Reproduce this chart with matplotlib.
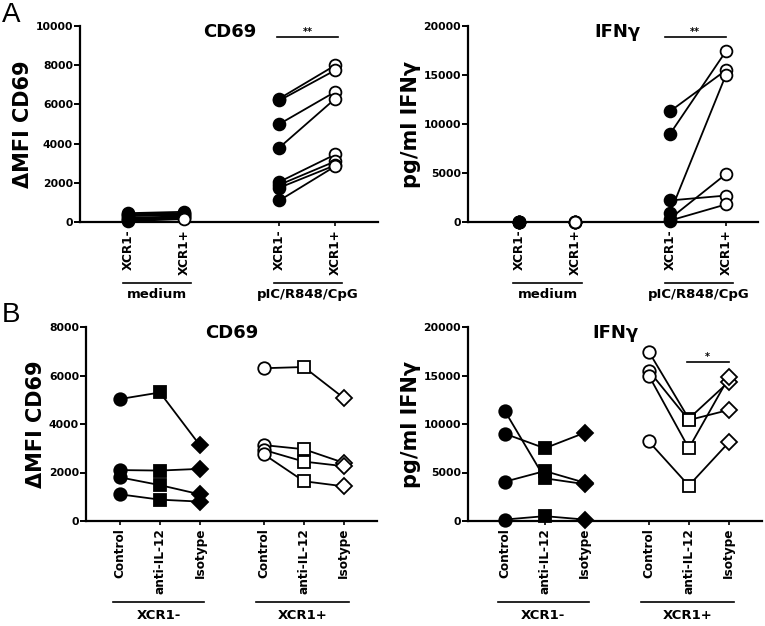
import matplotlib
matplotlib.use("Agg")
import matplotlib.pyplot as plt

plt.rcParams['font.family'] = ['DejaVu Sans']
plt.rcParams['font.weight'] = 'bold'

# ---- panel A data (paired donors) ----
a_groups = ["medium", "pIC/R848/CpG"]
a_ticks = ["XCR1-", "XCR1+", "XCR1-", "XCR1+"]

cd69_med_neg = [450, 400, 350, 300, 200, 150, 100, 50]
cd69_med_pos = [520, 450, 400, 350, 300, 250, 200, 150]
cd69_pic_neg = [6300, 6200, 5000, 3800, 2050, 1900, 1750, 1100]
cd69_pic_pos = [8000, 7750, 6650, 6300, 3450, 3100, 2900, 2850]

ifn_med_neg = [0, 0, 0, 0, 0, 0]
ifn_med_pos = [0, 0, 0, 0, 0, 0]
ifn_pic_neg = [11300, 9000, 2200, 950, 350, 150]
ifn_pic_pos = [15500, 17450, 2700, 15050, 4900, 1800]

# ---- panel B data (Control, anti-IL-12, Isotype) ----
b_groups = ["XCR1-", "XCR1+"]
b_ticks = ["Control", "anti-IL-12", "Isotype"] * 2

cd69_b_neg = [[5030, 5300, 3120],
              [2100, 2080, 2150],
              [1800, 1480, 1100],
              [1100, 880, 800]]
cd69_b_pos = [[6300, 6350, 5070],
              [3130, 2960, 2400],
              [2930, 2450, 2260],
              [2750, 1640, 1430]]

ifn_b_neg = [[11350, 4400, 3800],
             [9000, 7500, 9100],
             [4050, 5150, 3950],
             [150, 500, 150]]
ifn_b_pos = [[17450, 10550, 14350],
             [15500, 10400, 11450],
             [15000, 7500, 14800],
             [8200, 3650, 8100]]

W, H = 765, 626
fig = plt.figure(figsize=(W / 100, H / 100), dpi=100)


def make_ax(x0, y0, x1, y1):
    return fig.add_axes([x0 / W, 1 - y1 / H, (x1 - x0) / W, (y1 - y0) / H])


def style(ax, ymax, ystep, ylabel, title, tx, ty):
    ax.spines['top'].set_visible(False)
    ax.spines['right'].set_visible(False)
    ax.spines['left'].set_linewidth(1.6)
    ax.spines['bottom'].set_linewidth(1.6)
    ax.set_ylim(0, ymax)
    ax.set_yticks(range(0, ymax + 1, ystep))
    ax.tick_params(axis='y', direction='out', length=4, width=1.4, labelsize=7.8, pad=1)
    ax.tick_params(axis='x', direction='out', length=3, width=1.2, labelsize=8.7,
                   labelrotation=90, pad=2)
    for lb in ax.get_yticklabels() + ax.get_xticklabels():
        lb.set_fontweight('bold')
    ax.set_ylabel(ylabel, fontsize=15, fontweight='bold', labelpad=2)
    ax.text(tx, ty, title, transform=ax.transAxes, fontsize=13, fontweight='bold',
            ha='center', va='center')


def dots(ax, x, ys, m, fc, ms=8.5):
    ax.plot([x] * len(ys), ys, m, ms=ms, mfc=fc, mec='black', mew=1.3,
            ls='none', zorder=3, clip_on=False)


def group_lines(ax, spans, names, yline, ytext):
    tr = ax.get_xaxis_transform()
    for (a, b), nm in zip(spans, names):
        ax.plot([a, b], [yline, yline], color='black', lw=1.2, transform=tr, clip_on=False)
        ax.text((a + b) / 2, ytext, nm, transform=tr, ha='center', va='top',
                fontsize=9.5, fontweight='bold')


def sig(ax, x0, x1, y, label):
    ax.plot([x0, x1], [y, y], color='black', lw=1.2, clip_on=False)
    ax.text((x0 + x1) / 2, y, label, ha='center', va='bottom', fontsize=7, fontweight='bold')


pos_a = [1, 2, 3.7, 4.7]


def panel_a(ax, mneg, mpos, pneg, ppos, xlim, ymax, ystep, ylabel, title, tx):
    ax.set_xlim(*xlim)
    ax.set_xticks(pos_a)
    ax.set_xticklabels(a_ticks)
    for i in range(len(mneg)):
        ax.plot(pos_a[0:2], [mneg[i], mpos[i]], '-', color='black', lw=1.3, zorder=2, clip_on=False)
    for i in range(len(pneg)):
        ax.plot(pos_a[2:4], [pneg[i], ppos[i]], '-', color='black', lw=1.3, zorder=2, clip_on=False)
    dots(ax, pos_a[0], mneg, 'o', 'black')
    dots(ax, pos_a[1], mpos, 'o', 'white')
    dots(ax, pos_a[2], pneg, 'o', 'black')
    dots(ax, pos_a[3], ppos, 'o', 'white')
    style(ax, ymax, ystep, ylabel, title, tx, 0.97)
    group_lines(ax, [(pos_a[0] - 0.1, pos_a[1] + 0.12), (pos_a[2] - 0.1, pos_a[3] + 0.12)],
                a_groups, -0.31, -0.335)


# ---- A left: CD69 ----
ax1 = make_ax(80, 26, 378, 222)
panel_a(ax1, cd69_med_neg, cd69_med_pos, cd69_pic_neg, cd69_pic_pos,
        (0.14, 5.46), 10000, 2000, 'ΔMFI CD69', 'CD69', 0.503)
sig(ax1, 3.65, 4.75, 9450, '**')

# ---- A right: IFNγ ----
ax2 = make_ax(468, 26, 758, 222)
panel_a(ax2, ifn_med_neg, ifn_med_pos, ifn_pic_neg, ifn_pic_pos,
        (0.09, 5.27), 20000, 5000, 'pg/ml IFNγ', 'IFNγ', 0.514)
sig(ax2, 3.6, 4.7, 18900, '**')

# ---- panel B ----
pos_b = [1, 2, 3, 4.6, 5.6, 6.6]
mk_b = ['o', 's', 'D']


def panel_b(ax, neg, pos, xlim, ymax, ystep, ylabel, title, tx):
    ax.set_xlim(*xlim)
    ax.set_xticks(pos_b)
    ax.set_xticklabels(b_ticks)
    for row in neg:
        ax.plot(pos_b[0:3], row, '-', color='black', lw=1.3, zorder=2, clip_on=False)
    for row in pos:
        ax.plot(pos_b[3:6], row, '-', color='black', lw=1.3, zorder=2, clip_on=False)
    for j in range(3):
        ms = 9 if mk_b[j] != 'D' else 8
        dots(ax, pos_b[j], [r[j] for r in neg], mk_b[j], 'black', ms)
        dots(ax, pos_b[j + 3], [r[j] for r in pos], mk_b[j], 'white', ms)
    style(ax, ymax, ystep, ylabel, title, tx, 0.97)
    group_lines(ax, [(pos_b[0] - 0.17, pos_b[2] + 0.1), (pos_b[3] - 0.2, pos_b[5] + 0.12)],
                b_groups, -0.42, -0.455)


ax3 = make_ax(86, 327, 377, 521)
panel_b(ax3, cd69_b_neg, cd69_b_pos, (0.15, 7.43), 8000, 2000, 'ΔMFI CD69', 'CD69', 0.5)

ax4 = make_ax(468, 327, 762, 521)
panel_b(ax4, ifn_b_neg, ifn_b_pos, (0.08, 7.43), 20000, 5000, 'pg/ml IFNγ', 'IFNγ', 0.5)
sig(ax4, 5.55, 6.6, 16400, '*')

fig.text(2 / W, 1 - 15 / H, 'A', fontsize=20, fontweight='normal', va='center', ha='left',
         family='Liberation Sans')
fig.text(2 / W, 1 - 315 / H, 'B', fontsize=20, fontweight='normal', va='center', ha='left',
         family='Liberation Sans')

fig.savefig('out.png', dpi=100)
